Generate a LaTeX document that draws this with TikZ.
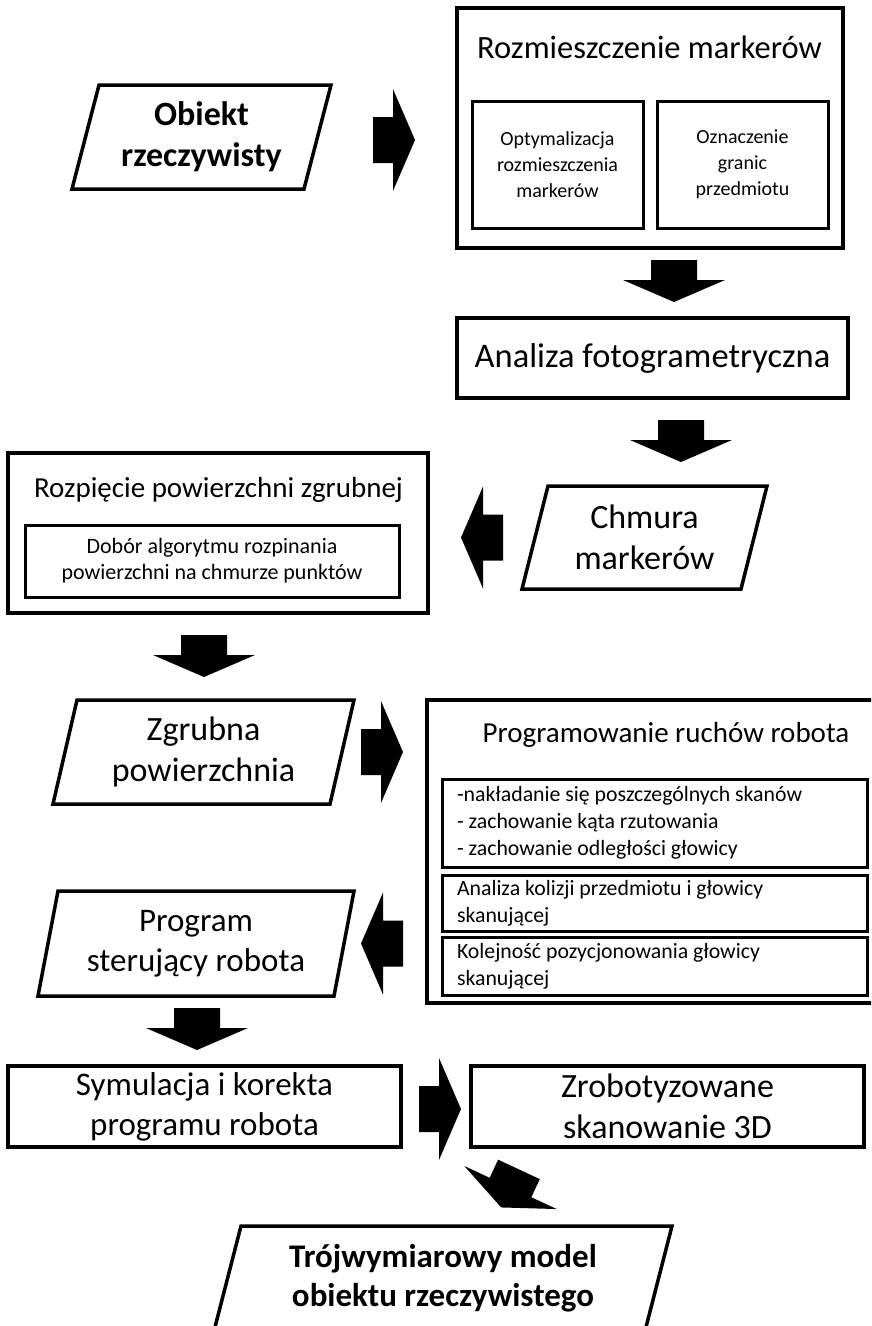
\documentclass[tikz,border=0pt]{standalone}
\usepackage{fontspec}
\setmainfont{Carlito}
\usetikzlibrary{shapes.geometric, positioning, calc}

\newcommand\boldbig{\fontsize{34}{41}\selectfont\bfseries}
\newcommand\boldmid{\fontsize{33}{39}\selectfont\bfseries}
\newcommand\plainbig{\fontsize{34}{41}\selectfont}
\newcommand\plainmid{\fontsize{33}{40}\selectfont}
\newcommand\titlefont{\fontsize{32.5}{38}\selectfont}
\newcommand\analizafont{\fontsize{34.5}{40}\selectfont}
\newcommand\headfont{\fontsize{29}{35}\selectfont}
\newcommand\smallfont{\fontsize{20}{26}\selectfont}
\newcommand\doborfont{\fontsize{22}{26}\selectfont}
\newcommand\listfont{\fontsize{21.8}{27}\selectfont}

% outline of a slanted (input/output) box round a plain node
\newcommand\slantbox[2]{%
  \draw[line width=3.5pt, line join=miter] (#1.south west) -- ($(#1.north west)+(#2,0)$)
    -- (#1.north east) -- ($(#1.south east)-(#2,0)$) -- cycle;}

\tikzset{
  blockarr/.pic={\fill (-20,-23) -- (0,-23) -- (0,-51) -- (22,0) -- (0,51) -- (0,23) -- (-20,23) -- cycle;}
}

\begin{document}
\begin{tikzpicture}[
    x=1pt, y=-1pt,
    box/.style={rectangle, draw, line width=3.5pt, align=center, inner sep=0pt},
    para/.style={rectangle, align=center, inner sep=0pt, outer sep=0pt},
    inbox/.style={rectangle, draw, line width=3pt, align=center, inner sep=0pt, font=\smallfont},
    listbox/.style={rectangle, draw, line width=3pt, inner xsep=15pt, inner ysep=0pt,
                    text width=395pt, align=flush left, font=\listfont},
]
\useasboundingbox (0,0) rectangle (871,1326);
\clip (0,0) rectangle (871,1326);

% top row
\node[para, minimum width=259pt, minimum height=104pt, font=\boldbig] (obiekt) at (201.5,137) {Obiekt\\rzeczywisty};
\slantbox{obiekt}{27}
\node[box, minimum width=386pt, minimum height=240pt] (rozm) at (650,128) {};
\node[font=\titlefont] (rozmtitle) at (649.5,47) {Rozmieszczenie markerów};
\node[inbox, minimum width=171pt, minimum height=127pt] (optym) at (557.5,164.5) {Optymalizacja\\rozmieszczenia\\markerów};
\node[inbox, minimum width=171pt, minimum height=127pt, right=11pt of optym] (granice) {Oznaczenie\\granic\\przedmiotu};

\node[box, minimum width=391pt, minimum height=80pt, font=\analizafont] (analiza) at (652.5,358) {Analiza fotogrametryczna};
\node[para, minimum width=245pt, minimum height=103pt, font=\plainbig] (chmura) at (644.5,537.5) {Chmura\\markerów};
\slantbox{chmura}{26}

% surface
\node[box, minimum width=420pt, minimum height=160pt] (rozp) at (218,533) {};
\node[font=\headfont] (rozptitle) at (218.5,490) {Rozpięcie powierzchni zgrubnej};
\node[inbox, minimum width=374pt, minimum height=72pt, font=\doborfont] (dobor) at (212,561) {Dobór algorytmu rozpinania\\powierzchni na chmurze punktów};
\node[para, minimum width=301pt, minimum height=104pt, font=\plainbig] (zgrubna) at (203.5,752) {Zgrubna\\powierzchnia};
\slantbox{zgrubna}{24}

% robot programming
\node[box, minimum width=458pt, minimum height=303pt] (prog) at (656,851.5) {};
\node[font=\headfont] (progtitle) at (666,735) {Programowanie ruchów robota};
\node[listbox, minimum height=88pt] (skany) at (654.5,823) {-nakładanie się poszczególnych skanów\\- zachowanie kąta rzutowania\\- zachowanie odległości głowicy};
\node[listbox, minimum height=56pt] (kolizje) at (654.5,903) {Analiza kolizji przedmiotu i głowicy\\skanującej};
\node[listbox, minimum height=58pt] (kolejnosc) at (654.5,966) {Kolejność pozycjonowania głowicy\\skanującej};
\node[para, minimum width=316pt, minimum height=105pt, font=\plainmid] (ster) at (196,943.5) {Program\\sterujący robota};
\slantbox{ster}{20}

% bottom
\node[box, minimum width=393pt, minimum height=81pt, font=\plainmid] (sym) at (204.5,1106.5) {Symulacja i korekta\\programu robota};
\node[box, minimum width=393pt, minimum height=81pt, font=\plainbig] (zrob) at (667.5,1106.5) {Zrobotyzowane\\skanowanie 3D};
\node[para, minimum width=458pt, minimum height=105pt, font=\boldmid] (troj) at (443,1278.5) {Trójwymiarowy model\\obiektu rzeczywistego};
\slantbox{troj}{27}

% block arrows
\pic at ($(obiekt.center)+(191.5,3)$) {blockarr};
\pic[rotate=-90] at ($(rozm.center)+(24,152)$) {blockarr};
\pic[rotate=-90] at ($(analiza.center)+(28.5,82)$) {blockarr};
\pic[rotate=180] at ($(chmura.center)+(-161.5,0)$) {blockarr};
\pic[rotate=-90] at ($(rozp.center)+(-14,122)$) {blockarr};
\pic at ($(zgrubna.center)+(177.5,0)$) {blockarr};
\pic[rotate=180] at ($(ster.center)+(187,0)$) {blockarr};
\pic[rotate=-90] at ($(ster.center)+(1,84.5)$) {blockarr};
\pic at ($(sym.center)+(234.5,2.5)$) {blockarr};
\pic[rotate=-115] at ($(zrob.center)+(-157,81)$) {blockarr};

\end{tikzpicture}
\end{document}
